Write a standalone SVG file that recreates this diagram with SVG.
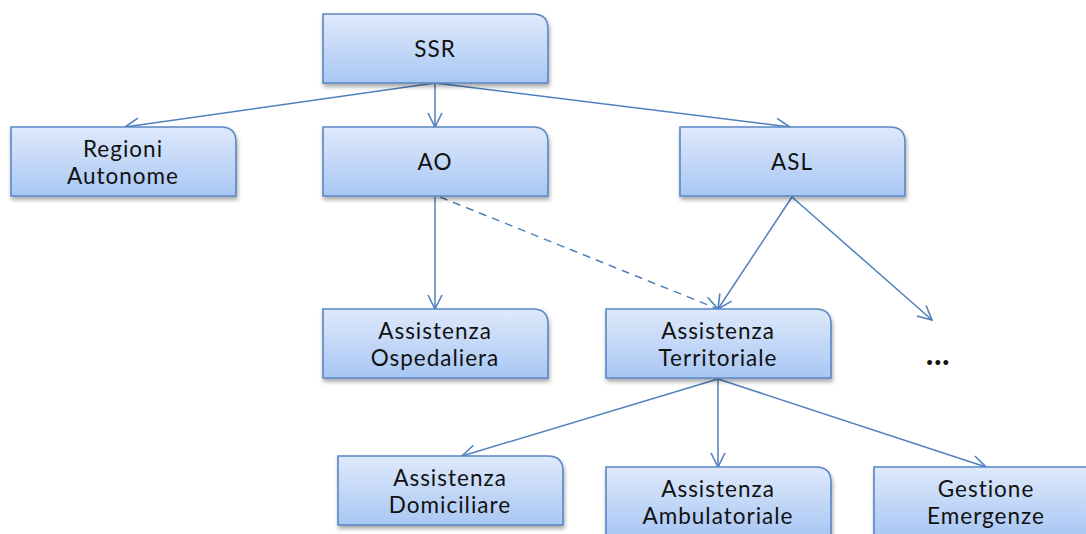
<svg xmlns="http://www.w3.org/2000/svg" width="1086" height="534" viewBox="0 0 1086 534">
  <defs>
    <linearGradient id="boxFill" x1="0" y1="0" x2="0" y2="1">
      <stop offset="0" stop-color="#dfe9fb"/>
      <stop offset="1" stop-color="#a8c7f4"/>
    </linearGradient>
    <filter id="shadow" x="-10%" y="-10%" width="125%" height="135%">
      <feGaussianBlur in="SourceAlpha" stdDeviation="2"/>
      <feOffset dx="1" dy="3" result="b"/>
      <feComponentTransfer><feFuncA type="linear" slope="0.35"/></feComponentTransfer>
      <feMerge><feMergeNode/><feMergeNode in="SourceGraphic"/></feMerge>
    </filter>
    <marker id="open" viewBox="0 0 16 16" refX="15" refY="8" markerWidth="16" markerHeight="16" markerUnits="userSpaceOnUse" orient="auto">
      <path d="M1,1 L15,8 L1,15" fill="none" stroke="#4f81bd" stroke-width="1.6"/>
    </marker>
    <!-- box with one rounded corner (top right) -->
    <path id="box" d="M0,0 H210 Q225,0 225,15 V69 H0 Z"/>
  </defs>
  <style>
    .node use { fill: url(#boxFill); stroke: #5a86c4; stroke-width: 1.6; filter: url(#shadow); }
    .node text { font-family: Lato, "Liberation Sans", sans-serif; font-size: 22.5px; letter-spacing: 1px; fill: #111; text-anchor: middle; }
    .edge { stroke: #4f81bd; stroke-width: 1.5; fill: none; marker-end: url(#open); }
    .dash { stroke-dasharray: 8 6; }
  </style>

  <g id="connectors">
    <line class="edge" x1="435" y1="83" x2="125" y2="127"/>
    <line class="edge" x1="435" y1="83" x2="435" y2="127"/>
    <line class="edge" x1="435" y1="83" x2="790" y2="127"/>
    <line class="edge" x1="435" y1="197" x2="435" y2="309"/>
    <line class="edge dash" x1="440" y1="197" x2="718" y2="309"/>
    <line class="edge" x1="792" y1="197" x2="718" y2="309"/>
    <line class="edge" x1="792" y1="197" x2="932" y2="320"/>
    <line class="edge" x1="718" y1="379" x2="462" y2="456"/>
    <line class="edge" x1="718" y1="379" x2="718" y2="467"/>
    <line class="edge" x1="718" y1="379" x2="986" y2="467"/>
  </g>

  <g id="ssr" class="node">
    <use href="#box" x="323" y="14"/>
    <text x="435" y="57">SSR</text>
  </g>
  <g id="regioni-autonome" class="node">
    <use href="#box" x="11" y="127"/>
    <text x="123" y="157">Regioni</text>
    <text x="123" y="184">Autonome</text>
  </g>
  <g id="ao" class="node">
    <use href="#box" x="323" y="127"/>
    <text x="435" y="170">AO</text>
  </g>
  <g id="asl" class="node">
    <use href="#box" x="680" y="127"/>
    <text x="792" y="170">ASL</text>
  </g>
  <g id="assistenza-ospedaliera" class="node">
    <use href="#box" x="323" y="309"/>
    <text x="435" y="339">Assistenza</text>
    <text x="435" y="366">Ospedaliera</text>
  </g>
  <g id="assistenza-territoriale" class="node">
    <use href="#box" x="606" y="309"/>
    <text x="718" y="339">Assistenza</text>
    <text x="718" y="366">Territoriale</text>
  </g>
  <g id="assistenza-domiciliare" class="node">
    <use href="#box" x="338" y="456"/>
    <text x="450" y="486">Assistenza</text>
    <text x="450" y="513">Domiciliare</text>
  </g>
  <g id="assistenza-ambulatoriale" class="node">
    <use href="#box" x="606" y="467"/>
    <text x="718" y="497">Assistenza</text>
    <text x="718" y="524">Ambulatoriale</text>
  </g>
  <g id="gestione-emergenze" class="node">
    <use href="#box" x="874" y="467"/>
    <text x="986" y="497">Gestione</text>
    <text x="986" y="524">Emergenze</text>
  </g>
  <g id="more">
    <text x="938" y="365" font-family="Lato, Liberation Sans, sans-serif" font-size="32" font-weight="bold" letter-spacing="0.5" fill="#111" text-anchor="middle">...</text>
  </g>
</svg>
